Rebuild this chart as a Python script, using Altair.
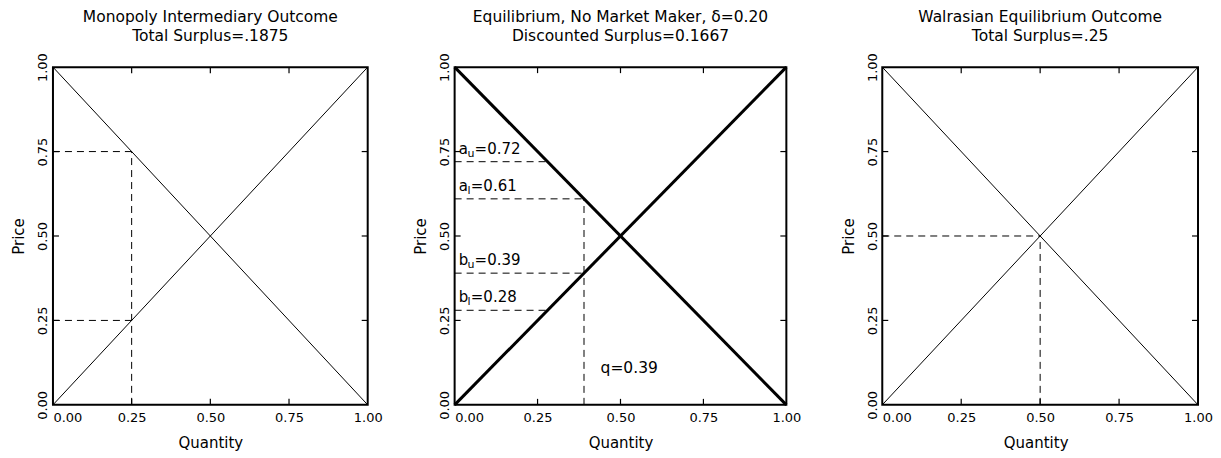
import altair as alt
import pandas as pd

FONT = "DejaVu Sans"
TICK_VALUES = [0.0, 0.25, 0.5, 0.75, 1.0]
INNER_TICKS = [0.25, 0.5, 0.75]

TITLES = [
    ["Monopoly Intermediary Outcome", "Total Surplus=.1875"],
    ["Equilibrium, No Market Maker, δ=0.20", "Discounted Surplus=0.1667"],
    ["Walrasian Equilibrium Outcome", "Total Surplus=.25"],
]

# demand and supply curves
demand_q = [0.0, 1.0]
demand_p = [1.0, 0.0]
supply_q = [0.0, 1.0]
supply_p = [0.0, 1.0]

# panel 1: monopoly intermediary
mono_q = 0.25
mono_ask = 0.75
mono_bid = 0.25

# panel 2: no market maker
q_eq = 0.39
a_u, a_l, b_u, b_l = 0.72, 0.61, 0.39, 0.28
q_label_pos = (0.44, 0.11)

# panel 3: walrasian
w_q = 0.5
w_p = 0.5

BOX_W = [315, 332, 316]
LEAD = [0, 0, 9]          # extra blank pixels left of the box inside the view
PANEL_H = 338
GAP = 87


def curves_df():
    rows = []
    for q, p in zip(demand_q, demand_p):
        rows.append({"curve": "demand", "q": q, "p": p})
    for q, p in zip(supply_q, supply_p):
        rows.append({"curve": "supply", "q": q, "p": p})
    return pd.DataFrame(rows)


def seg(x, y, x2, y2):
    return {"x": x, "y": y, "x2": x2, "y2": y2}


def panel(idx, line_width, segments, texts):
    W = BOX_W[idx]
    L = LEAD[idx]
    x_scale = alt.Scale(domain=[-L / W, 1], nice=False, zero=False, padding=0)
    y_scale = alt.Scale(domain=[0, 1], nice=False, zero=False, padding=0)
    x_axis = alt.Axis(
        values=TICK_VALUES, format=".2f", ticks=False, tickSize=0, domain=False, grid=False,
        labelFont=FONT, labelFontSize=13, labelColor="black", labelPadding=7,
        labelAlign={"condition": {"test": "datum.value == 0", "value": "left"}, "value": "center"},
        labelFlush=False, labelOverlap=False,
        title="Quantity", titleFont=FONT, titleFontSize=15, titleFontWeight="normal",
        titleColor="black", titlePadding=11,
    )
    y_axis = alt.Axis(
        values=TICK_VALUES, format=".2f", ticks=False, tickSize=0, domain=False, grid=False,
        labelFont=FONT, labelFontSize=13, labelColor="black", labelPadding=3, offset=-L,
        labelAngle=270, labelAlign="center", labelBaseline="bottom",
        labelFlush=False, labelOverlap=False,
        title="Price", titleFont=FONT, titleFontSize=15, titleFontWeight="normal",
        titleColor="black", titlePadding=10,
    )
    base_curves = alt.Chart(curves_df()).mark_line(color="black", strokeWidth=line_width).encode(
        x=alt.X("q:Q", scale=x_scale, axis=x_axis),
        y=alt.Y("p:Q", scale=y_scale, axis=y_axis),
        detail="curve:N",
    )
    box = alt.Chart(pd.DataFrame({"x": [0.0], "x2": [1.0], "y": [0.0], "y2": [1.0]})).mark_rect(
        fill=None, stroke="black", strokeWidth=2
    ).encode(x="x:Q", x2="x2:Q", y="y:Q", y2="y2:Q")
    seg_df = pd.DataFrame(segments)
    dashed = alt.Chart(seg_df).mark_rule(color="black", strokeWidth=1, strokeDash=[7, 5]).encode(
        x="x:Q", y="y:Q", x2="x2:Q", y2="y2:Q"
    )
    tdf = pd.DataFrame({"t": INNER_TICKS})
    tick_style = dict(color="black", strokeWidth=1.2)
    top = alt.Chart(tdf).mark_rule(**tick_style).encode(x="t:Q", y=alt.value(0), y2=alt.value(6))
    bottom = alt.Chart(tdf).mark_rule(**tick_style).encode(x="t:Q", y=alt.value(PANEL_H), y2=alt.value(PANEL_H - 6))
    left = alt.Chart(tdf).mark_rule(**tick_style).encode(y="t:Q", x=alt.value(L), x2=alt.value(L + 6))
    right = alt.Chart(tdf).mark_rule(**tick_style).encode(y="t:Q", x=alt.value(L + W), x2=alt.value(L + W - 6))
    layers = [base_curves, dashed, top, bottom, left, right, box] + texts
    return alt.layer(*layers).properties(
        width=W + L, height=PANEL_H,
        title=alt.TitleParams(
            text=TITLES[idx], font=FONT, fontSize=15.5, fontWeight="normal", color="black",
            anchor="middle", baseline="bottom", offset=-7, lineHeight=19, dx=L / 2,
        ),
    )


# panel 1
segs1 = [
    seg(0, mono_ask, mono_q, mono_ask),
    seg(0, mono_bid, mono_q, mono_bid),
    seg(mono_q, 0, mono_q, mono_ask),
]
p1 = panel(0, 1, segs1, [])

# panel 2 labels (letter, subscript, value)
labels2 = [("a", "u", a_u), ("a", "l", a_l), ("b", "u", b_u), ("b", "l", b_l)]
SUB_W = {"u": 7.0, "l": 3.2}
texts2 = []
for letter, sub, val in labels2:
    d = pd.DataFrame({"x": [0.0], "y": [val], "main": [letter], "sub": [sub], "rest": [f"={val:.2f}"]})
    texts2.append(alt.Chart(d).mark_text(font=FONT, fontSize=15, align="left", baseline="alphabetic",
                                         dx=4, dy=-8, color="black").encode(x="x:Q", y="y:Q", text="main:N"))
    texts2.append(alt.Chart(d).mark_text(font=FONT, fontSize=11, align="left", baseline="alphabetic",
                                         dx=13, dy=-5, color="black").encode(x="x:Q", y="y:Q", text="sub:N"))
    texts2.append(alt.Chart(d).mark_text(font=FONT, fontSize=15, align="left", baseline="alphabetic",
                                         dx=13 + SUB_W[sub], dy=-8, color="black").encode(x="x:Q", y="y:Q", text="rest:N"))
qd = pd.DataFrame({"x": [q_label_pos[0]], "y": [q_label_pos[1]], "t": [f"q={q_eq:.2f}"]})
texts2.append(alt.Chart(qd).mark_text(font=FONT, fontSize=15.5, align="left", baseline="middle", color="black")
              .encode(x="x:Q", y="y:Q", text="t:N"))
segs2 = [
    seg(0, a_u, 1 - a_u, a_u),
    seg(0, a_l, q_eq, a_l),
    seg(0, b_u, q_eq, b_u),
    seg(0, b_l, b_l, b_l),
    seg(q_eq, 0, q_eq, a_l),
]
p2 = panel(1, 3, segs2, texts2)

# panel 3
segs3 = [seg(0, w_p, w_q, w_p), seg(w_q, 0, w_q, w_p)]
p3 = panel(2, 1, segs3, [])

chart = alt.hconcat(p1, p2, p3, spacing=GAP, bounds="flush").properties(
    padding={"left": 4, "top": 2, "right": 0, "bottom": 0}
).configure(background="white").configure_view(
    stroke="transparent", strokeWidth=0
).configure_axis(domain=False, grid=False, ticks=False)

chart.save("out.html", embed_options={"renderer": "svg", "actions": False})
